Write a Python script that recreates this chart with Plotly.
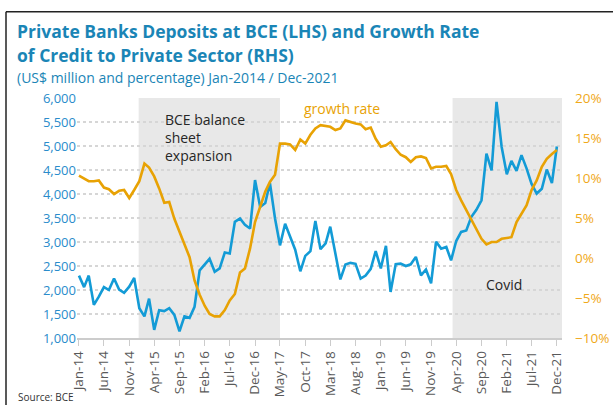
import pandas as pd
import plotly.graph_objects as go

# ---- data ----
months = pd.date_range("2014-01-01", periods=96, freq="MS")

deposits = [
    2300, 2060, 2300, 1690, 1860, 2060, 2000, 2240, 2010, 1940, 2070, 2250,
    1620, 1450, 1820, 1170, 1580, 1560, 1620, 1480, 1140, 1450, 1420, 1650,
    2410, 2540, 2650, 2380, 2450, 2780, 2760, 3420, 3490, 3360, 3280, 4290,
    3730, 3810, 4230, 3490, 2930, 3380, 3100, 2840, 2390, 2710, 2810, 3440,
    2850, 2970, 3320, 2740, 2220, 2530, 2565, 2545, 2238, 2300, 2440, 2810,
    2450, 2920, 1960, 2540, 2550, 2500, 2535, 2690, 2306, 2427, 2140, 3005,
    2862, 2896, 2618, 3020, 3210, 3240, 3520, 3670, 3870, 4840, 4490, 5920,
    4980, 4410, 4690, 4480, 4810, 4530, 4210, 4010, 4110, 4510, 4230, 4990,
]

growth = [
    10.3, 9.9, 9.6, 9.6, 9.7, 8.8, 8.6, 8.0, 8.4, 8.5, 7.5, 8.5,
    9.6, 11.8, 11.3, 10.2, 8.7, 6.9, 7.0, 4.9, 3.3, 1.8, 0.1, -2.8,
    -4.6, -6.0, -7.0, -7.3, -7.3, -6.5, -5.3, -4.5, -1.8, -1.3, 1.2, 4.5,
    6.5, 8.3, 9.5, 10.4, 14.3, 14.3, 14.2, 13.5, 14.8, 14.3, 15.4, 16.2,
    16.6, 16.5, 16.4, 16.0, 16.2, 17.2, 17.0, 16.8, 16.7, 16.1, 16.3, 14.9,
    13.9, 14.1, 14.5, 13.6, 12.9, 12.6, 12.0, 12.6, 12.7, 12.5, 11.2, 11.4,
    11.4, 11.5, 10.5, 8.5, 7.2, 6.0, 4.9, 3.7, 2.4, 1.7, 2.0, 2.0,
    2.4, 2.5, 2.6, 4.5, 5.5, 6.6, 8.5, 9.7, 11.4, 12.4, 13.0, 13.5,
]

periods = {
    "BCE balance<br>sheet<br>expansion": ("2014-12-28", "2017-05-01"),
    "Covid": ("2020-03-10", "2022-01-01"),
}

title_l1 = "Private Banks Deposits at BCE (LHS) and Growth Rate"
title_l2 = "of Credit to Private Sector (RHS)"
subtitle = "(US$ million and percentage) Jan-2014 / Dec-2021"
source = "Source: BCE"

# ---- layout geometry (pixels) ----
W, H = 613, 405
L, R, T, B = 77, 51, 98, 67
PW, PH = W - L - R, H - T - B


def px(x):
    return (x - L) / PW


def py(y):
    return (H - B - y) / PH


BLUE = "#139bd6"
ORANGE = "#e8a204"
TITLE_C = "#1a85b6"
FONT = "Open Sans"

fig = go.Figure()
fig.add_trace(go.Scatter(x=months, y=deposits, mode="lines",
                         line=dict(color=BLUE, width=2.6), name="Deposits"))
fig.add_trace(go.Scatter(x=months, y=growth, mode="lines", yaxis="y2",
                         line=dict(color=ORANGE, width=2.6), name="growth rate"))

shapes = []
for name, (a, b) in periods.items():
    shapes.append(dict(type="rect", xref="x", yref="paper", x0=a, x1=b, y0=0, y1=1,
                       fillcolor="#e8e8e8", line=dict(width=0), layer="below"))
# frame (top and left edges)
shapes.append(dict(type="line", xref="paper", yref="paper", x0=px(6), x1=px(W + 5),
                   y0=py(11.7), y1=py(11.7), line=dict(color="#222222", width=1.5)))
shapes.append(dict(type="line", xref="paper", yref="paper", x0=px(6), x1=px(6),
                   y0=py(11.7), y1=py(H + 5), line=dict(color="#222222", width=1.5)))

annotations = [
    dict(text="<b>" + title_l1 + "</b>", x=px(15), y=py(31), xref="paper", yref="paper",
         xanchor="left", yanchor="middle", showarrow=False,
         font=dict(family=FONT, size=17.5, color=TITLE_C)),
    dict(text="<b>" + title_l2 + "</b>", x=px(15), y=py(55), xref="paper", yref="paper",
         xanchor="left", yanchor="middle", showarrow=False,
         font=dict(family=FONT, size=17.5, color=TITLE_C)),
    dict(text=subtitle, x=px(15), y=py(77), xref="paper", yref="paper",
         xanchor="left", yanchor="middle", showarrow=False,
         font=dict(family=FONT, size=14, color=TITLE_C)),
    dict(text=list(periods.keys())[0], x=px(163), y=py(108), xref="paper", yref="paper",
         xanchor="left", yanchor="top", align="left", showarrow=False,
         font=dict(family=FONT, size=14, color="#262626")),
    dict(text="growth rate", x=px(302), y=py(109), xref="paper", yref="paper",
         xanchor="left", yanchor="middle", showarrow=False,
         font=dict(family=FONT, size=14, color=ORANGE)),
    dict(text="Covid", x=px(484), y=py(284), xref="paper", yref="paper",
         xanchor="left", yanchor="middle", showarrow=False,
         font=dict(family=FONT, size=14, color="#262626")),
    dict(text=source, x=px(16), y=py(397), xref="paper", yref="paper",
         xanchor="left", yanchor="middle", showarrow=False,
         font=dict(family=FONT, size=10, color="#333333")),
]

fig.update_layout(
    width=W, height=H,
    margin=dict(l=L, r=R, t=T, b=B, autoexpand=False),
    paper_bgcolor="white", plot_bgcolor="white",
    showlegend=False,
    shapes=shapes, annotations=annotations,
    font=dict(family=FONT),
    xaxis=dict(type="date", range=["2013-12-20", "2022-01-01"],
               tick0="2014-01-01", dtick="M5", tickformat="%b-%y",
               tickangle=-90, ticks="outside", ticklen=6, tickcolor="#cccccc",
               showline=True, linecolor="#cccccc", linewidth=1.5,
               showgrid=False, zeroline=False, automargin=False,
               tickfont=dict(family=FONT, size=13.5, color="#595959")),
    yaxis=dict(range=[1000, 6000], dtick=500, tickformat=",",
               showgrid=True, gridcolor="#d6d6d6", griddash="dot", gridwidth=1.5,
               zeroline=False, showline=False, ticks="", automargin=False,
               tickfont=dict(family=FONT, size=13, color="#2a8ccb")),
    yaxis2=dict(range=[-10, 20], dtick=5, ticksuffix="%", overlaying="y", side="right",
                showgrid=False, zeroline=False, showline=False, ticks="",
                automargin=False, ticklabelstandoff=12,
                tickfont=dict(family=FONT, size=13.5, color="#f0a91a")),
)

fig.write_html(
    "out.html",
    config={"displayModeBar": False},
    post_script="document.body.style.margin='0';document.body.style.padding='0';",
)
